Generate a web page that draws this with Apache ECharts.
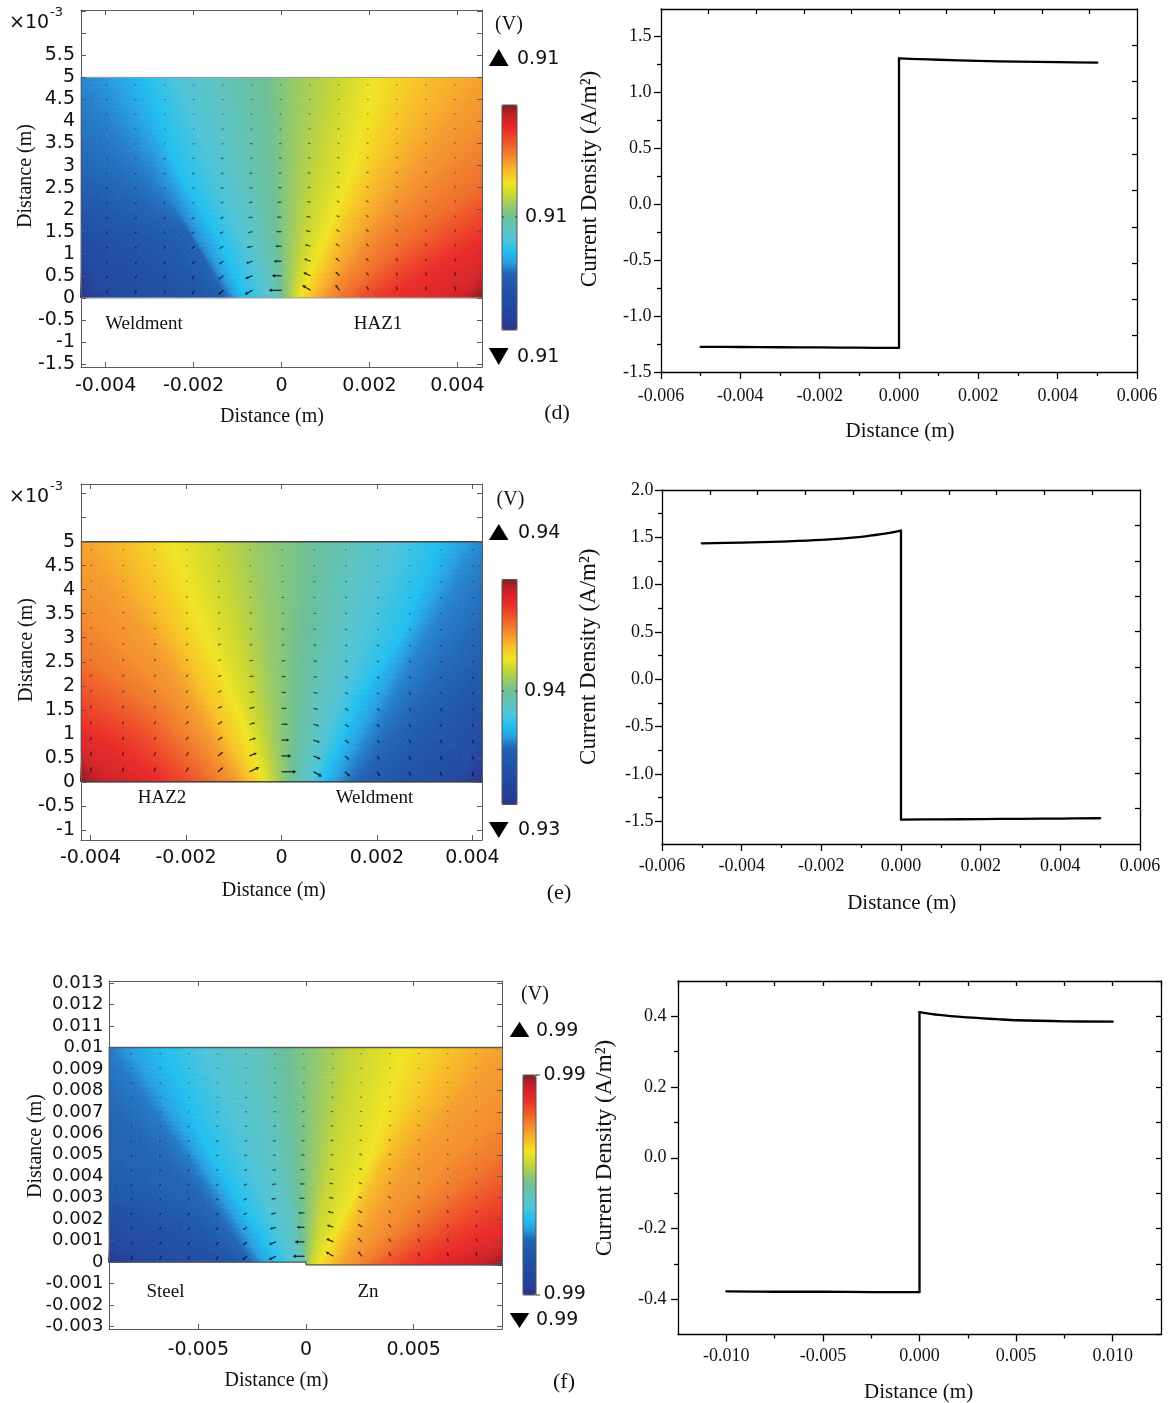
<!DOCTYPE html>
<html><head><meta charset="utf-8">
<script src="https://cdn.jsdelivr.net/npm/echarts@6/dist/echarts.min.js"></script>
<style>html,body{margin:0;padding:0;background:#fff}#c{width:1172px;height:1403px}</style>
</head><body><div id="c"></div>
<script>
// ================= DATA =================
// colour map (COMSOL rainbow), evenly spaced from low (0) to high (1)
const CMAP = ['#2a3585','#25409a','#2048a0','#1f50a4','#2058aa','#2264b4','#2a9ee0','#22c0f0','#50c4d8','#60c4c0','#6cc098','#98ca68','#c8d634','#f0e424','#f8c028','#f49830','#f0702c','#ee4a2a','#e82828','#c82028','#802020'];

// ---- panel (d) potential field: iso-level lines (mm), listed left to right ----
const dLevels = [0,0.03,0.06,0.10,0.15,0.20,0.25,0.28,0.30,0.35,0.40,0.45,0.50,0.55,0.60,0.65,0.70,0.74,0.76,0.80,0.85,0.89,0.93,0.97,1];
const dIso = [
 [[-4.56,0]],
 [[-4.35,0],[-4.56,0.30]],
 [[-4.05,0],[-4.56,0.61]],
 [[-3.6,0],[-4.1,0.6],[-4.56,1.13]],
 [[-2.3,0],[-3.4,0.95],[-4.56,1.6]],
 [[-1.55,0],[-2.6,1.2],[-4.56,2.2]],
 [[-1.25,0],[-2.12,1.51],[-4.56,2.87]],
 [[-1.12,0],[-2.6,2.4],[-4.56,5]],
 [[-1.05,0],[-2.4,2.5],[-3.86,5]],
 [[-0.84,0],[-1.44,1.36],[-2.35,2.87],[-3.10,5]],
 [[-0.38,0],[-1.35,2.5],[-2.35,5]],
 [[-0.15,0],[-0.8,2.5],[-1.44,5]],
 [[0,0],[-0.19,2.5],[-0.38,5]],
 [[0.15,0],[0.22,2.5],[0.30,5]],
 [[0.26,0],[0.75,2.5],[1.29,5]],
 [[0.42,0],[0.98,1.36],[1.59,2.87],[2.12,5]],
 [[0.68,0],[1.3,1.3],[2.4,3.3],[3.26,5]],
 [[0.91,0],[1.9,1.5],[3.2,3.3],[4.56,5]],
 [[1.02,0],[2.2,1.6],[4.56,4.0]],
 [[1.36,0],[2.6,1.2],[4.56,2.64]],
 [[1.82,0],[3.0,0.9],[4.56,1.89]],
 [[2.35,0],[3.4,0.7],[4.56,1.36]],
 [[3.94,0],[4.3,0.35],[4.56,0.61]],
 [[4.32,0],[4.56,0.23]],
 [[4.56,0]]
];
const dDomainTop = [[-4.56,5],[4.56,5]];
const dDomainBottom = [[-4.56,0],[4.56,0]];
const dArrowX = [-3.96,-3.3,-2.64,-1.98,-1.32,-0.66,0,0.66,1.32,1.98,2.64,3.3,3.96];
const dArrowY = [0.17,0.5,0.83,1.17,1.5,1.83,2.17,2.5,2.83,3.17,3.5,3.83,4.17,4.5,4.83];
const dArrowAng = [
 [-105,-108,-112,-120,-140,-152,180,148,128,117,110,105,100],
 [-108,-112,-116,-125,-143,-158,180,155,135,122,114,108,103],
 [-112,-116,-120,-130,-147,-163,180,160,140,127,118,112,106],
 [-116,-120,-125,-135,-151,-166,180,164,145,132,122,115,109],
 [-120,-124,-130,-140,-155,-169,180,167,150,137,126,119,112],
 [-125,-128,-135,-145,-158,-171,180,169,154,141,131,123,116],
 [-130,-133,-140,-150,-161,-172,180,171,157,145,135,127,120],
 [-135,-138,-145,-154,-164,-173,180,172,160,149,140,132,125],
 [-140,-143,-150,-158,-166,-174,180,173,163,153,144,137,130],
 [-145,-148,-155,-161,-168,-175,180,174,166,157,149,142,136],
 [-150,-153,-159,-164,-170,-176,180,175,168,161,154,148,142],
 [-156,-158,-163,-167,-172,-176,180,176,171,165,159,154,149],
 [-162,-164,-167,-170,-174,-177,180,177,173,169,165,161,157],
 [-168,-169,-171,-173,-176,-178,180,178,176,173,170,168,165],
 [-174,-175,-176,-177,-178,-179,180,179,178,177,176,175,174]
];
const dArrowMag = [
 [4,4,4,5,7,9,13,10,7,5,4.5,4.5,4.5],
 [3.5,3.5,4,4.5,6,8,10,8,6,4.5,4,4,4],
 [3,3.5,3.5,4,5.5,7,8,7,5.5,4.5,4,3.5,3.5],
 [3,3,3.5,4,5,6,6.5,6,5,4,3.5,3.5,3],
 [3,3,3,3.5,4.5,5,5.5,5,4.5,4,3.5,3,3],
 [2.5,3,3,3.5,4,4.5,5,4.5,4,3.5,3,3,2.5],
 [2.5,2.5,3,3,3.5,4,4.5,4,3.5,3.5,3,2.5,2.5],
 [2.5,2.5,2.5,3,3.5,3.5,4,3.5,3.5,3,2.5,2.5,2.5],
 [2,2.5,2.5,3,3,3.5,3.5,3.5,3,3,2.5,2.5,2],
 [2,2,2.5,2.5,3,3,3,3,3,2.5,2.5,2,2],
 [2,2,2,2.5,2.5,3,3,3,2.5,2.5,2,2,2],
 [2,2,2,2,2.5,2.5,2.5,2.5,2.5,2,2,2,2],
 [2,2,2,2,2,2.5,2.5,2.5,2,2,2,2,2],
 [2,2,2,2,2,2,2,2,2,2,2,2,2],
 [2,2,2,2,2,2,2,2,2,2,2,2,2]
];
const dXTicks = [-4,-2,0,2,4];
const dXLabels = ['-0.004','-0.002','0','0.002','0.004'];
const dYTicks = [-1.5,-1,-0.5,0,0.5,1,1.5,2,2.5,3,3.5,4,4.5,5,5.5,6,6.5];
const dYLabels = ['-1.5','-1','-0.5','0','0.5','1','1.5','2','2.5','3','3.5','4','4.5','5','5.5','',''];
const dBarLabels = ['0.91','0.91','0.91'];   // max, middle, min

// ---- panel (e) ----
const eLevels = [1,0.97,0.93,0.90,0.87,0.83,0.79,0.76,0.74,0.70,0.65,0.60,0.55,0.50,0.45,0.40,0.35,0.30,0.28,0.25,0.20,0.15,0.10,0.05,0];
const eIso = [
 [[-4.2,0]],
 [[-3.98,0],[-4.2,0.26]],
 [[-3.42,0],[-3.85,0.35],[-4.2,0.61]],
 [[-2.51,0],[-3.4,0.6],[-4.2,1.03]],
 [[-2.16,0],[-3.1,0.85],[-4.2,1.45]],
 [[-1.74,0],[-2.8,1.15],[-4.2,2.0]],
 [[-1.32,0],[-2.6,1.5],[-4.2,2.7]],
 [[-1.04,0],[-2.4,1.9],[-4.2,3.74]],
 [[-0.9,0],[-2.3,2.4],[-4.2,5]],
 [[-0.66,0],[-1.9,2.4],[-3.21,5]],
 [[-0.38,0],[-0.97,1.65],[-1.6,3.04],[-2.3,5]],
 [[-0.2,0],[-0.75,2.5],[-1.32,5]],
 [[0,0],[-0.24,2.5],[-0.48,5]],
 [[0.21,0],[0.42,2.5],[0.63,5]],
 [[0.43,0],[1.0,2.5],[1.54,5]],
 [[0.63,0],[1.5,2.5],[2.38,5]],
 [[0.85,0],[1.6,1.65],[2.5,3.04],[3.29,5]],
 [[1.13,0],[2.5,2.5],[3.85,5]],
 [[1.26,0],[2.7,2.5],[4.2,5]],
 [[1.54,0],[2.9,1.6],[4.2,3.04]],
 [[2.03,0],[3.1,1.1],[4.2,2.14]],
 [[2.73,0],[3.5,0.75],[4.2,1.45]],
 [[3.57,0],[3.9,0.4],[4.2,0.82]],
 [[3.92,0],[4.2,0.26]],
 [[4.2,0]]
];
const eDomainTop = [[-4.2,5],[4.2,5]];
const eDomainBottom = [[-4.2,0],[4.2,0]];
const eArrowX = [-4.0,-3.33,-2.67,-2.0,-1.33,-0.67,0,0.67,1.33,2.0,2.67,3.33,4.0];
const eArrowY = [0.21,0.54,0.87,1.2,1.53,1.86,2.19,2.52,2.85,3.18,3.51,3.84,4.17,4.5,4.83];
const eArrowAng = [
 [82,76,70,60,40,25,0,-29,-42,-55,-65,-73,-80],
 [80,74,67,57,38,22,0,-24,-40,-52,-62,-70,-77],
 [77,71,64,53,35,18,0,-20,-37,-49,-59,-67,-74],
 [74,68,60,50,32,15,0,-17,-34,-46,-56,-64,-71],
 [71,65,57,46,29,13,0,-14,-31,-43,-53,-61,-68],
 [67,61,53,42,26,11,0,-12,-28,-40,-49,-57,-64],
 [63,57,49,38,23,9,0,-10,-25,-36,-45,-53,-60],
 [58,52,44,34,20,8,0,-9,-22,-32,-41,-48,-55],
 [53,47,39,30,17,7,0,-8,-19,-28,-36,-43,-50],
 [47,41,34,26,15,6,0,-7,-16,-24,-31,-38,-44],
 [40,35,29,22,12,5,0,-6,-13,-20,-26,-32,-37],
 [33,29,24,18,10,4,0,-5,-11,-16,-21,-26,-30],
 [25,22,18,13,8,3,0,-4,-8,-12,-16,-19,-23],
 [17,15,12,9,5,2,0,-3,-5,-8,-11,-13,-15],
 [8,7,6,4,3,1,0,-1,-3,-4,-5,-6,-7]
];
const eArrowMag = [
 [5,5,5,5.5,7,11,15,10,7,5.5,5,5,5],
 [4.5,4.5,4.5,5,6.5,8,10,8,6,5,4.5,4.5,4.5],
 [4,4,4,4.5,6,7,8,7,5.5,4.5,4,4,4],
 [3.5,3.5,4,4.5,5.5,6,6.5,6,5,4.5,4,3.5,3.5],
 [3.5,3.5,3.5,4,5,5.5,5.5,5,4.5,4,3.5,3.5,3],
 [3,3,3.5,3.5,4.5,5,5,4.5,4,3.5,3.5,3,3],
 [3,3,3,3.5,4,4.5,4.5,4,4,3.5,3,3,3],
 [2.5,3,3,3,3.5,4,4,4,3.5,3,3,2.5,2.5],
 [2.5,2.5,3,3,3.5,3.5,3.5,3.5,3,3,2.5,2.5,2.5],
 [2.5,2.5,2.5,3,3,3,3.5,3,3,2.5,2.5,2.5,2],
 [2,2.5,2.5,2.5,3,3,3,3,2.5,2.5,2.5,2,2],
 [2,2,2,2.5,2.5,2.5,3,2.5,2.5,2.5,2,2,2],
 [2,2,2,2,2.5,2.5,2.5,2.5,2.5,2,2,2,2],
 [2,2,2,2,2,2,2,2,2,2,2,2,2],
 [2,2,2,2,2,2,2,2,2,2,2,2,2]
];
const eXTicks = [-4,-2,0,2,4];
const eXLabels = ['-0.004','-0.002','0','0.002','0.004'];
const eYTicks = [-1,-0.5,0,0.5,1,1.5,2,2.5,3,3.5,4,4.5,5,5.5,6];
const eYLabels = ['-1','-0.5','0','0.5','1','1.5','2','2.5','3','3.5','4','4.5','5','',''];
const eBarLabels = ['0.94','0.94','0.93'];

// ---- panel (f) ----
const fLevels = [0,0.03,0.06,0.10,0.15,0.20,0.24,0.27,0.30,0.35,0.40,0.45,0.50,0.55,0.60,0.65,0.70,0.74,0.76,0.79,0.83,0.87,0.90,0.94,0.97,1];
const fIso = [
 [[-9.15,0]],
 [[-8.73,0],[-9.15,0.31]],
 [[-8.11,0],[-9.15,0.62]],
 [[-7.03,0],[-8.1,0.8],[-9.15,1.41]],
 [[-3.94,0],[-6.6,1.6],[-9.15,2.5]],
 [[-3.02,0],[-5.6,2.0],[-9.15,3.28]],
 [[-2.71,0],[-4.9,2.5],[-9.15,5.16]],
 [[-2.32,0],[-5.6,5.0],[-9.15,10]],
 [[-2.01,0],[-5.1,5.0],[-8.27,10]],
 [[-1.31,0],[-2.9,2.5],[-4.41,5.0],[-6.72,10]],
 [[-0.69,0],[-2.7,5.0],[-4.72,10]],
 [[-0.23,0],[-1.3,5.0],[-2.4,10]],
 [[-0.08,0],[-0.46,5],[-0.85,10]],
 [[0.08,-0.13],[0.39,5],[0.70,10]],
 [[0.23,-0.13],[1.24,5],[2.25,10]],
 [[0.54,-0.13],[1.94,2.5],[3.02,5],[4.56,10]],
 [[1.16,-0.13],[3.7,5],[6.88,10]],
 [[1.63,-0.13],[5.0,5],[9.1,10]],
 [[2.09,-0.13],[5.5,3.6],[9.1,7.19]],
 [[2.71,-0.13],[5.9,2.6],[9.1,5.16]],
 [[3.48,-0.13],[6.3,1.9],[9.1,3.75]],
 [[4.41,-0.13],[6.8,1.3],[9.1,2.5]],
 [[5.34,-0.13],[7.3,0.7],[9.1,1.41]],
 [[7.66,-0.13],[9.1,0.62]],
 [[8.59,-0.13],[9.1,0.23]],
 [[9.1,-0.13]]
];
const fDomainTop = [[-9.15,10],[9.1,10]];
const fDomainBottom = [[-9.15,0],[0,0],[0,-0.13],[9.1,-0.13]];
const fArrowX = [-8.08,-6.74,-5.41,-4.07,-2.74,-1.40,-0.07,1.27,2.60,3.94,5.27,6.61,7.94];
const fArrowY = [0.27,0.94,1.62,2.29,2.97,3.64,4.31,4.99,5.66,6.34,7.01,7.68,8.36,9.03,9.71];
const fArrowAng = [
 [-106,-110,-114,-122,-140,-155,180,150,130,118,111,106,101],
 [-109,-113,-118,-127,-144,-160,180,156,136,123,115,109,104],
 [-113,-117,-122,-132,-148,-164,180,161,141,128,119,113,107],
 [-117,-121,-127,-137,-152,-167,180,164,146,133,123,116,110],
 [-121,-125,-131,-141,-155,-169,180,167,150,138,127,120,113],
 [-126,-129,-136,-146,-158,-171,180,169,154,142,132,124,117],
 [-131,-134,-141,-150,-161,-172,180,171,157,146,136,128,121],
 [-136,-139,-146,-154,-164,-173,180,172,160,150,141,133,126],
 [-141,-144,-150,-158,-166,-174,180,173,163,154,145,138,131],
 [-146,-149,-155,-161,-168,-175,180,174,166,158,150,143,137],
 [-151,-154,-159,-164,-170,-176,180,175,168,162,155,149,143],
 [-157,-159,-163,-167,-172,-176,180,176,171,166,160,155,150],
 [-163,-164,-167,-170,-174,-177,180,177,173,170,166,162,158],
 [-168,-169,-171,-173,-176,-178,180,178,176,173,171,169,166],
 [-174,-175,-176,-177,-178,-179,180,179,178,177,176,175,174]
];
const fArrowMag = [
 [4,4,4,4.5,6,8,12,9,6.5,5,4.5,4.5,4.5],
 [3.5,3.5,4,4.5,5.5,7.5,10,8,6,4.5,4,4,4],
 [3,3.5,3.5,4,5,6.5,8,7,5.5,4.5,4,3.5,3.5],
 [3,3,3.5,4,4.5,5.5,6.5,6,5,4,3.5,3.5,3],
 [3,3,3,3.5,4.5,5,5.5,5,4.5,4,3.5,3,3],
 [2.5,3,3,3.5,4,4.5,5,4.5,4,3.5,3,3,2.5],
 [2.5,2.5,3,3,3.5,4,4.5,4,3.5,3.5,3,2.5,2.5],
 [2.5,2.5,2.5,3,3.5,3.5,4,3.5,3.5,3,2.5,2.5,2.5],
 [2,2.5,2.5,3,3,3.5,3.5,3.5,3,3,2.5,2.5,2],
 [2,2,2.5,2.5,3,3,3,3,3,2.5,2.5,2,2],
 [2,2,2,2.5,2.5,3,3,3,2.5,2.5,2,2,2],
 [2,2,2,2,2.5,2.5,2.5,2.5,2.5,2,2,2,2],
 [2,2,2,2,2,2.5,2.5,2.5,2,2,2,2,2],
 [2,2,2,2,2,2,2,2,2,2,2,2,2],
 [2,2,2,2,2,2,2,2,2,2,2,2,2]
];
const fXTicks = [-5,0,5];
const fXLabels = ['-0.005','0','0.005'];
const fYTicks = [-3,-2,-1,0,1,2,3,4,5,6,7,8,9,10,11,12,13];
const fYLabels = ['-0.003','-0.002','-0.001','0','0.001','0.002','0.003','0.004','0.005','0.006','0.007','0.008','0.009','0.01','0.011','0.012','0.013'];
const fBarLabels = ['0.99','0.99','0.99','0.99'];

// ---- current density line profiles ----
const dLineX = [-0.005,-0.004,-0.003,-0.002,-0.001,0,0,0.0005,0.001,0.002,0.003,0.004,0.005];
const dLineY = [-1.276,-1.277,-1.279,-1.281,-1.283,-1.285,1.300,1.293,1.287,1.277,1.270,1.265,1.262];
const eLineX = [-0.005,-0.004,-0.003,-0.002,-0.001,-0.0005,0,0,0.001,0.002,0.003,0.004,0.005];
const eLineY = [1.437,1.444,1.455,1.472,1.505,1.533,1.571,-1.482,-1.480,-1.477,-1.474,-1.471,-1.468];
const fLineX = [-0.01,-0.0075,-0.005,-0.0025,0,0,0.001,0.0025,0.004,0.005,0.0075,0.01];
const fLineY = [-0.378,-0.379,-0.379,-0.380,-0.380,0.412,0.404,0.397,0.392,0.389,0.386,0.385];

const dLXTicks = [-0.006,-0.004,-0.002,0,0.002,0.004,0.006];
const dLXLabels = ['-0.006','-0.004','-0.002','0.000','0.002','0.004','0.006'];
const dLXMinor = [-0.005,-0.003,-0.001,0.001,0.003,0.005];
const dLYTicks = [-1.5,-1,-0.5,0,0.5,1,1.5];
const dLYLabels = ['-1.5','-1.0','-0.5','0.0','0.5','1.0','1.5'];
const dLYMinor = [-1.25,-0.75,-0.25,0.25,0.75,1.25];
const dLTop = [-0.0048,-0.0036,-0.0024,-0.0012,0,0.0012,0.0024,0.0036,0.0048];
const dLRight = [-1.176,-0.852,-0.528,-0.204,0.12,0.444,0.768,1.092,1.416];

const eLXTicks = dLXTicks, eLXLabels = dLXLabels, eLXMinor = dLXMinor;
const eLYTicks = [-1.5,-1,-0.5,0,0.5,1,1.5,2];
const eLYLabels = ['-1.5','-1.0','-0.5','0.0','0.5','1.0','1.5','2.0'];
const eLYMinor = [-1.25,-0.75,-0.25,0.25,0.75,1.25,1.75];
const eLTop = [-0.0048,-0.0036,-0.0024,-0.0012,0,0.0012,0.0024,0.0036,0.0048];
const eLRight = [-1.366,-0.992,-0.618,-0.244,0.13,0.504,0.878,1.252,1.626];

const fLXTicks = [-0.01,-0.005,0,0.005,0.01];
const fLXLabels = ['-0.010','-0.005','0.000','0.005','0.010'];
const fLXMinor = [-0.0075,-0.0025,0.0025,0.0075];
const fLYTicks = [-0.4,-0.2,0,0.2,0.4];
const fLYLabels = ['-0.4','-0.2','0.0','0.2','0.4'];
const fLYMinor = [-0.3,-0.1,0.1,0.3];
const fLTop = [-0.0125,-0.01,-0.0075,-0.005,-0.0025,0,0.0025,0.005,0.0075,0.01,0.0125];
const fLRight = [-0.5,-0.4,-0.3,-0.2,-0.1,0,0.1,0.2,0.3,0.4,0.5];

// ================= RENDERING =================
const SANS = 'DejaVu Sans', SERIF = 'Liberation Serif', TXT = '#111';
const CMAP_RGB = CMAP.map(h => [parseInt(h.slice(1,3),16), parseInt(h.slice(3,5),16), parseInt(h.slice(5,7),16)]);
function colorAt(t) {
  t = Math.max(0, Math.min(1, t));
  const f = t * (CMAP.length - 1);
  const i = Math.min(CMAP.length - 2, Math.floor(f));
  const u = f - i, a = CMAP_RGB[i], b = CMAP_RGB[i + 1];
  return 'rgb(' + Math.round(a[0] + (b[0]-a[0])*u) + ',' + Math.round(a[1] + (b[1]-a[1])*u) + ',' + Math.round(a[2] + (b[2]-a[2])*u) + ')';
}
function gradStops(a, b) {
  const s = [];
  for (let j = 0; j <= 4; j++) { const f = j / 4; s.push({offset: f, color: colorAt(a + (b - a) * f)}); }
  return s;
}
const M = 44;
function resample(pts) {
  if (pts.length === 1) { const o = []; for (let k = 0; k <= M; k++) o.push(pts[0]); return o; }
  const seg = []; let L = 0;
  for (let i = 1; i < pts.length; i++) { const d = Math.hypot(pts[i][0]-pts[i-1][0], pts[i][1]-pts[i-1][1]); seg.push(d); L += d; }
  const out = [];
  for (let k = 0; k <= M; k++) {
    let s = L * k / M, i = 0;
    while (i < seg.length - 1 && s > seg[i]) { s -= seg[i]; i++; }
    const f = seg[i] > 0 ? Math.min(1, s / seg[i]) : 0;
    out.push([pts[i][0] + (pts[i+1][0]-pts[i][0])*f, pts[i][1] + (pts[i+1][1]-pts[i][1])*f]);
  }
  return out;
}
function lab(vals, labels) {
  return function (v) { for (let i = 0; i < vals.length; i++) if (Math.abs(vals[i] - v) < 1e-9) return labels[i]; return ''; };
}

const opt = {animation: false, backgroundColor: '#fff', grid: [], xAxis: [], yAxis: [], series: [], visualMap: [], graphic: []};

function axis(o) {
  return {
    type: 'value', gridIndex: o.g, position: o.pos, min: o.min, max: o.max, z: 10,
    splitLine: {show: false}, splitArea: {show: false},
    axisLine: {show: o.line !== false, onZero: false, lineStyle: {color: o.color, width: o.lw || 1}},
    axisTick: {show: true, inside: !!o.inside, length: o.len, customValues: o.ticks, lineStyle: {color: o.color, width: o.lw || 1}},
    minorTick: {show: false},
    axisLabel: o.labels ? {show: true, customValues: o.labelVals, formatter: lab(o.ticks, o.labels), margin: o.margin,
      fontFamily: o.font, fontSize: o.fs, color: TXT} : {show: false}
  };
}

function addHeat(p) {
  const g = opt.grid.length;
  opt.grid.push({left: p.box[0], top: p.box[1], width: p.box[2], height: p.box[3], containLabel: false, outerBoundsMode: 'none'});
  const xi = opt.xAxis.length, yi = opt.yAxis.length;
  const C = '#5a5a5a';
  opt.xAxis.push(axis({g, pos: 'bottom', min: p.xr[0], max: p.xr[1], color: C, inside: true, len: 5, ticks: p.xt, labels: p.xl,
    labelVals: p.xt, margin: p.xm, font: SANS, fs: 19}));
  opt.xAxis.push(axis({g, pos: 'top', min: p.xr[0], max: p.xr[1], color: C, inside: true, len: 5, ticks: p.xt}));
  opt.yAxis.push(axis({g, pos: 'left', min: p.yr[0], max: p.yr[1], color: C, inside: true, len: 5, ticks: p.yt, labels: p.yl,
    labelVals: p.yt.filter((v, i) => p.yl[i] !== ''), margin: p.ym, font: SANS, fs: p.yfs}));
  opt.yAxis.push(axis({g, pos: 'right', min: p.yr[0], max: p.yr[1], color: C, inside: true, len: 5, ticks: p.yt}));

  const bands = [];
  for (let i = 0; i < p.iso.length - 1; i++) bands.push([0, 0, i, (p.levels[i] + p.levels[i + 1]) / 2]);
  const fieldIdx = opt.series.length;
  opt.series.push({
    type: 'custom', xAxisIndex: xi, yAxisIndex: yi, data: bands, silent: true, z: 1,
    dimensions: ['x', 'y', 'band', 'level'], encode: {x: 0, y: 1},
    renderItem: function (params, api) {
      const i = api.value(2);
      const A = resample(p.iso[i].map(pt => api.coord(pt)));
      const B = resample(p.iso[i + 1].map(pt => api.coord(pt)));
      const tA = p.levels[i], tB = p.levels[i + 1];
      const children = [];
      for (let k = 0; k < M; k++) {
        const pts = [A[k], A[k + 1], B[k + 1], B[k]];
        const P = [(A[k][0] + A[k+1][0]) / 2, (A[k][1] + A[k+1][1]) / 2];
        const Q = [(B[k][0] + B[k+1][0]) / 2, (B[k][1] + B[k+1][1]) / 2];
        let fill;
        if (Math.hypot(P[0]-Q[0], P[1]-Q[1]) < 0.5) fill = colorAt((tA + tB) / 2);
        else fill = new echarts.graphic.LinearGradient(P[0], P[1], Q[0], Q[1], gradStops(tA, tB), true);
        children.push({type: 'polygon', shape: {points: pts}, style: {fill: fill, stroke: fill, lineWidth: 0.8}});
      }
      return {type: 'group', children};
    }
  });
  // domain boundaries
  [p.top, p.bottom].forEach(b => opt.series.push({
    type: 'line', xAxisIndex: xi, yAxisIndex: yi, data: b, symbol: 'none', silent: true, z: 3,
    lineStyle: {color: p.edgeColor, width: p.edgeWidth}
  }));
  // arrows (current density vectors)
  const arr = [];
  for (let r = 0; r < p.ay.length; r++) for (let c = 0; c < p.ax.length; c++) arr.push([p.ax[c], p.ay[r], p.ang[r][c], p.mag[r][c]]);
  opt.series.push({
    type: 'custom', xAxisIndex: xi, yAxisIndex: yi, data: arr, silent: true, z: 4,
    renderItem: function (params, api) {
      const p0 = api.coord([api.value(0), api.value(1)]);
      const a = api.value(2) * Math.PI / 180, L = api.value(3);
      const dx = Math.cos(a), dy = -Math.sin(a);
      const p1 = [p0[0] + dx * L, p0[1] + dy * L];
      const h = Math.min(3.6, 0.8 + L * 0.28), w = h * 0.5;
      const base = [p1[0] - dx * h, p1[1] - dy * h];
      const nx = -dy, ny = dx;
      const op = Math.min(0.85, 0.3 + 0.07 * L);
      return {type: 'group', children: [
        {type: 'line', shape: {x1: p0[0], y1: p0[1], x2: base[0], y2: base[1]}, style: {stroke: '#000', lineWidth: 1.2, opacity: op}},
        {type: 'polygon', shape: {points: [p1, [base[0] + nx * w, base[1] + ny * w], [base[0] - nx * w, base[1] - ny * w]]},
          style: {fill: '#000', opacity: op}}
      ]};
    }
  });
  opt.visualMap.push({
    type: 'continuous', min: 0, max: 1, inRange: {color: CMAP}, seriesIndex: fieldIdx, dimension: 3,
    left: p.bar[0], top: p.bar[1], itemWidth: p.bar[2], itemHeight: p.bar[3], padding: 0,
    calculable: false, realtime: false, hoverLink: false, orient: 'vertical', text: null, show: true
  });
  opt.graphic.push({type: 'rect', shape: {x: p.bar[0], y: p.bar[1], width: p.bar[2], height: p.bar[3]},
    style: {fill: 'none', stroke: '#555', lineWidth: 1}, z: 100});
}

function addLine(p) {
  const g = opt.grid.length;
  opt.grid.push({left: p.box[0], top: p.box[1], width: p.box[2], height: p.box[3], containLabel: false, outerBoundsMode: 'none'});
  const xi = opt.xAxis.length, yi = opt.yAxis.length;
  const C = '#000';
  opt.xAxis.push(axis({g, pos: 'bottom', min: p.xr[0], max: p.xr[1], color: C, lw: 1.3, len: 7, ticks: p.xt, labels: p.xl,
    labelVals: p.xt, margin: p.xm, font: SERIF, fs: 18}));
  opt.xAxis.push(axis({g, pos: 'bottom', min: p.xr[0], max: p.xr[1], color: C, lw: 1.3, len: 4, ticks: p.xmin, line: false}));
  opt.xAxis.push(axis({g, pos: 'top', min: p.xr[0], max: p.xr[1], color: C, lw: 1.3, len: 5, inside: true, ticks: p.top}));
  opt.yAxis.push(axis({g, pos: 'left', min: p.yr[0], max: p.yr[1], color: C, lw: 1.3, len: 7, ticks: p.yt, labels: p.yl,
    labelVals: p.yt, margin: p.ym, font: SERIF, fs: 18}));
  opt.yAxis.push(axis({g, pos: 'left', min: p.yr[0], max: p.yr[1], color: C, lw: 1.3, len: 4, ticks: p.ymin, line: false}));
  opt.yAxis.push(axis({g, pos: 'right', min: p.yr[0], max: p.yr[1], color: C, lw: 1.3, len: 5, inside: true, ticks: p.right}));
  const pts = p.x.map((v, i) => [v, p.y[i]]);
  let j = 0;
  for (let i = 0; i < pts.length - 1; i++) if (pts[i][0] === pts[i + 1][0]) j = i;
  [[pts.slice(0, j + 1), 0.35], [pts.slice(j, j + 2), 0], [pts.slice(j + 1), 0.35]].forEach(s => opt.series.push({
    type: 'line', xAxisIndex: xi, yAxisIndex: yi, data: s[0], symbol: 'none', silent: true, smooth: s[1],
    lineStyle: {color: '#000', width: 2.3, cap: 'round', join: 'round'}, z: 5
  }));
}

addHeat({box: [81, 10, 401, 357], xr: [-4.56, 4.56], yr: [-1.57, 6.53], xt: dXTicks, xl: dXLabels, yt: dYTicks, yl: dYLabels,
  xm: 9.5, ym: 6, yfs: 19, levels: dLevels, iso: dIso, top: dDomainTop, bottom: dDomainBottom, edgeColor: '#9a9a9a', edgeWidth: 1,
  ax: dArrowX, ay: dArrowY, ang: dArrowAng, mag: dArrowMag, bar: [502, 105, 15, 225]});
addLine({box: [661, 9, 476, 363], xr: [-0.006, 0.006], yr: [-1.5, 1.74], xt: dLXTicks, xl: dLXLabels, xmin: dLXMinor,
  yt: dLYTicks, yl: dLYLabels, ymin: dLYMinor, top: dLTop, right: dLRight, xm: 15, ym: 9.5, x: dLineX, y: dLineY});
addHeat({box: [81, 484, 401, 356], xr: [-4.2, 4.2], yr: [-1.21, 6.2], xt: eXTicks, xl: eXLabels, yt: eYTicks, yl: eYLabels,
  xm: 8.5, ym: 6, yfs: 19, levels: eLevels, iso: eIso, top: eDomainTop, bottom: eDomainBottom, edgeColor: '#444', edgeWidth: 1.5,
  ax: eArrowX, ay: eArrowY, ang: eArrowAng, mag: eArrowMag, bar: [502, 579.5, 15, 225]});
addLine({box: [662, 490, 478, 354], xr: [-0.006, 0.006], yr: [-1.74, 2.0], xt: eLXTicks, xl: eLXLabels, xmin: eLXMinor,
  yt: eLYTicks, yl: eLYLabels, ymin: eLYMinor, top: eLTop, right: eLRight, xm: 13, ym: 8.6, x: eLineX, y: eLineY});
addHeat({box: [109, 981, 393, 348], xr: [-9.15, 9.1], yr: [-3.12, 13.1], xt: fXTicks, xl: fXLabels, yt: fYTicks, yl: fYLabels,
  xm: 11.5, ym: 5.5, yfs: 18, levels: fLevels, iso: fIso, top: fDomainTop, bottom: fDomainBottom, edgeColor: '#555', edgeWidth: 1.3,
  ax: fArrowX, ay: fArrowY, ang: fArrowAng, mag: fArrowMag, bar: [523, 1075, 13, 220]});
addLine({box: [678, 981, 483, 353.5], xr: [-0.0125, 0.0125], yr: [-0.5, 0.5], xt: fLXTicks, xl: fLXLabels, xmin: fLXMinor,
  yt: fLYTicks, yl: fLYLabels, ymin: fLYMinor, top: fLTop, right: fLRight, xm: 13, ym: 11.5, x: fLineX, y: fLineY});

// ---- texts & decorations ----
function txt(s, x, y, font, fs, align, rot) {
  opt.graphic.push({type: 'text', x, y, rotation: rot || 0, z: 100, silent: true,
    style: {text: s, fontFamily: font, fontSize: fs, fill: TXT, align: align || 'center', verticalAlign: 'middle'}});
}
function tri(cx, yTop, yBot, up) {
  const w = 9.8;
  const pts = up ? [[cx - w, yBot], [cx + w, yBot], [cx, yTop]] : [[cx - w, yTop], [cx + w, yTop], [cx, yBot]];
  opt.graphic.push({type: 'polygon', shape: {points: pts}, style: {fill: '#000'}, z: 100, silent: true});
}
function tick(x1, y1, x2, y2) {
  opt.graphic.push({type: 'line', shape: {x1, y1, x2, y2}, style: {stroke: '#333', lineWidth: 1}, z: 101, silent: true});
}
const PI2 = Math.PI / 2;
// (d)
txt('×10', 9, 23, SANS, 19, 'left'); txt('-3', 50, 13, SANS, 13, 'left');
txt('(V)', 509, 25, SERIF, 20);
tri(498.75, 49, 66, true); txt(dBarLabels[0], 517, 59.5, SANS, 19, 'left');
txt(dBarLabels[1], 525, 217, SANS, 19, 'left'); tick(502, 217, 504, 217); tick(515, 217, 517, 217);
tri(498.75, 348, 365, false); txt(dBarLabels[2], 517, 357, SANS, 19, 'left');
txt('Weldment', 144, 324, SERIF, 19); txt('HAZ1', 378, 324, SERIF, 19);
txt('(d)', 557, 413, SERIF, 22);
txt('Distance (m)', 272, 416.5, SERIF, 20); txt('Distance (m)', 26, 176, SERIF, 20, 'center', PI2);
txt('Current Density (A/m²)', 589.5, 179, SERIF, 23, 'center', PI2); txt('Distance (m)', 900, 431.5, SERIF, 21);
// (e)
txt('×10', 9, 497, SANS, 19, 'left'); txt('-3', 50, 487, SANS, 13, 'left');
txt('(V)', 510.5, 500, SERIF, 20);
tri(498.75, 524, 540, true); txt(eBarLabels[0], 518, 533, SANS, 19, 'left');
txt(eBarLabels[1], 524, 691, SANS, 19, 'left'); tick(502, 691, 504, 691); tick(515, 691, 517, 691);
tri(498.75, 822, 838, false); txt(eBarLabels[2], 518, 830, SANS, 19, 'left');
txt('HAZ2', 162, 798, SERIF, 19); txt('Weldment', 374.5, 798, SERIF, 19);
txt('(e)', 559, 893, SERIF, 22);
txt('Distance (m)', 273.7, 890.7, SERIF, 20); txt('Distance (m)', 26.3, 650, SERIF, 20, 'center', PI2);
txt('Current Density (A/m²)', 589.4, 656.7, SERIF, 23, 'center', PI2); txt('Distance (m)', 901.7, 903, SERIF, 21);
// (f)
txt('(V)', 535, 995, SERIF, 20);
tri(519.5, 1021.7, 1037, true); txt(fBarLabels[0], 536, 1031, SANS, 19, 'left');
txt(fBarLabels[1], 543.6, 1075, SANS, 19, 'left'); tick(536, 1075, 540, 1075);
txt(fBarLabels[2], 543.6, 1294, SANS, 19, 'left'); tick(536, 1295, 540, 1295);
tri(519.5, 1313, 1328, false); txt(fBarLabels[3], 536, 1320, SANS, 19, 'left');
txt('Steel', 165.5, 1292, SERIF, 19); txt('Zn', 368, 1292, SERIF, 19);
txt('(f)', 564, 1382, SERIF, 22);
txt('Distance (m)', 276.5, 1380.7, SERIF, 20); txt('Distance (m)', 35.7, 1146, SERIF, 20, 'center', PI2);
txt('Current Density (A/m²)', 604.5, 1148, SERIF, 23, 'center', PI2); txt('Distance (m)', 918.6, 1392, SERIF, 21);

const chart = echarts.init(document.getElementById('c'), null, {renderer: 'canvas', width: 1172, height: 1403});
chart.setOption(opt);
</script>
</body></html>
